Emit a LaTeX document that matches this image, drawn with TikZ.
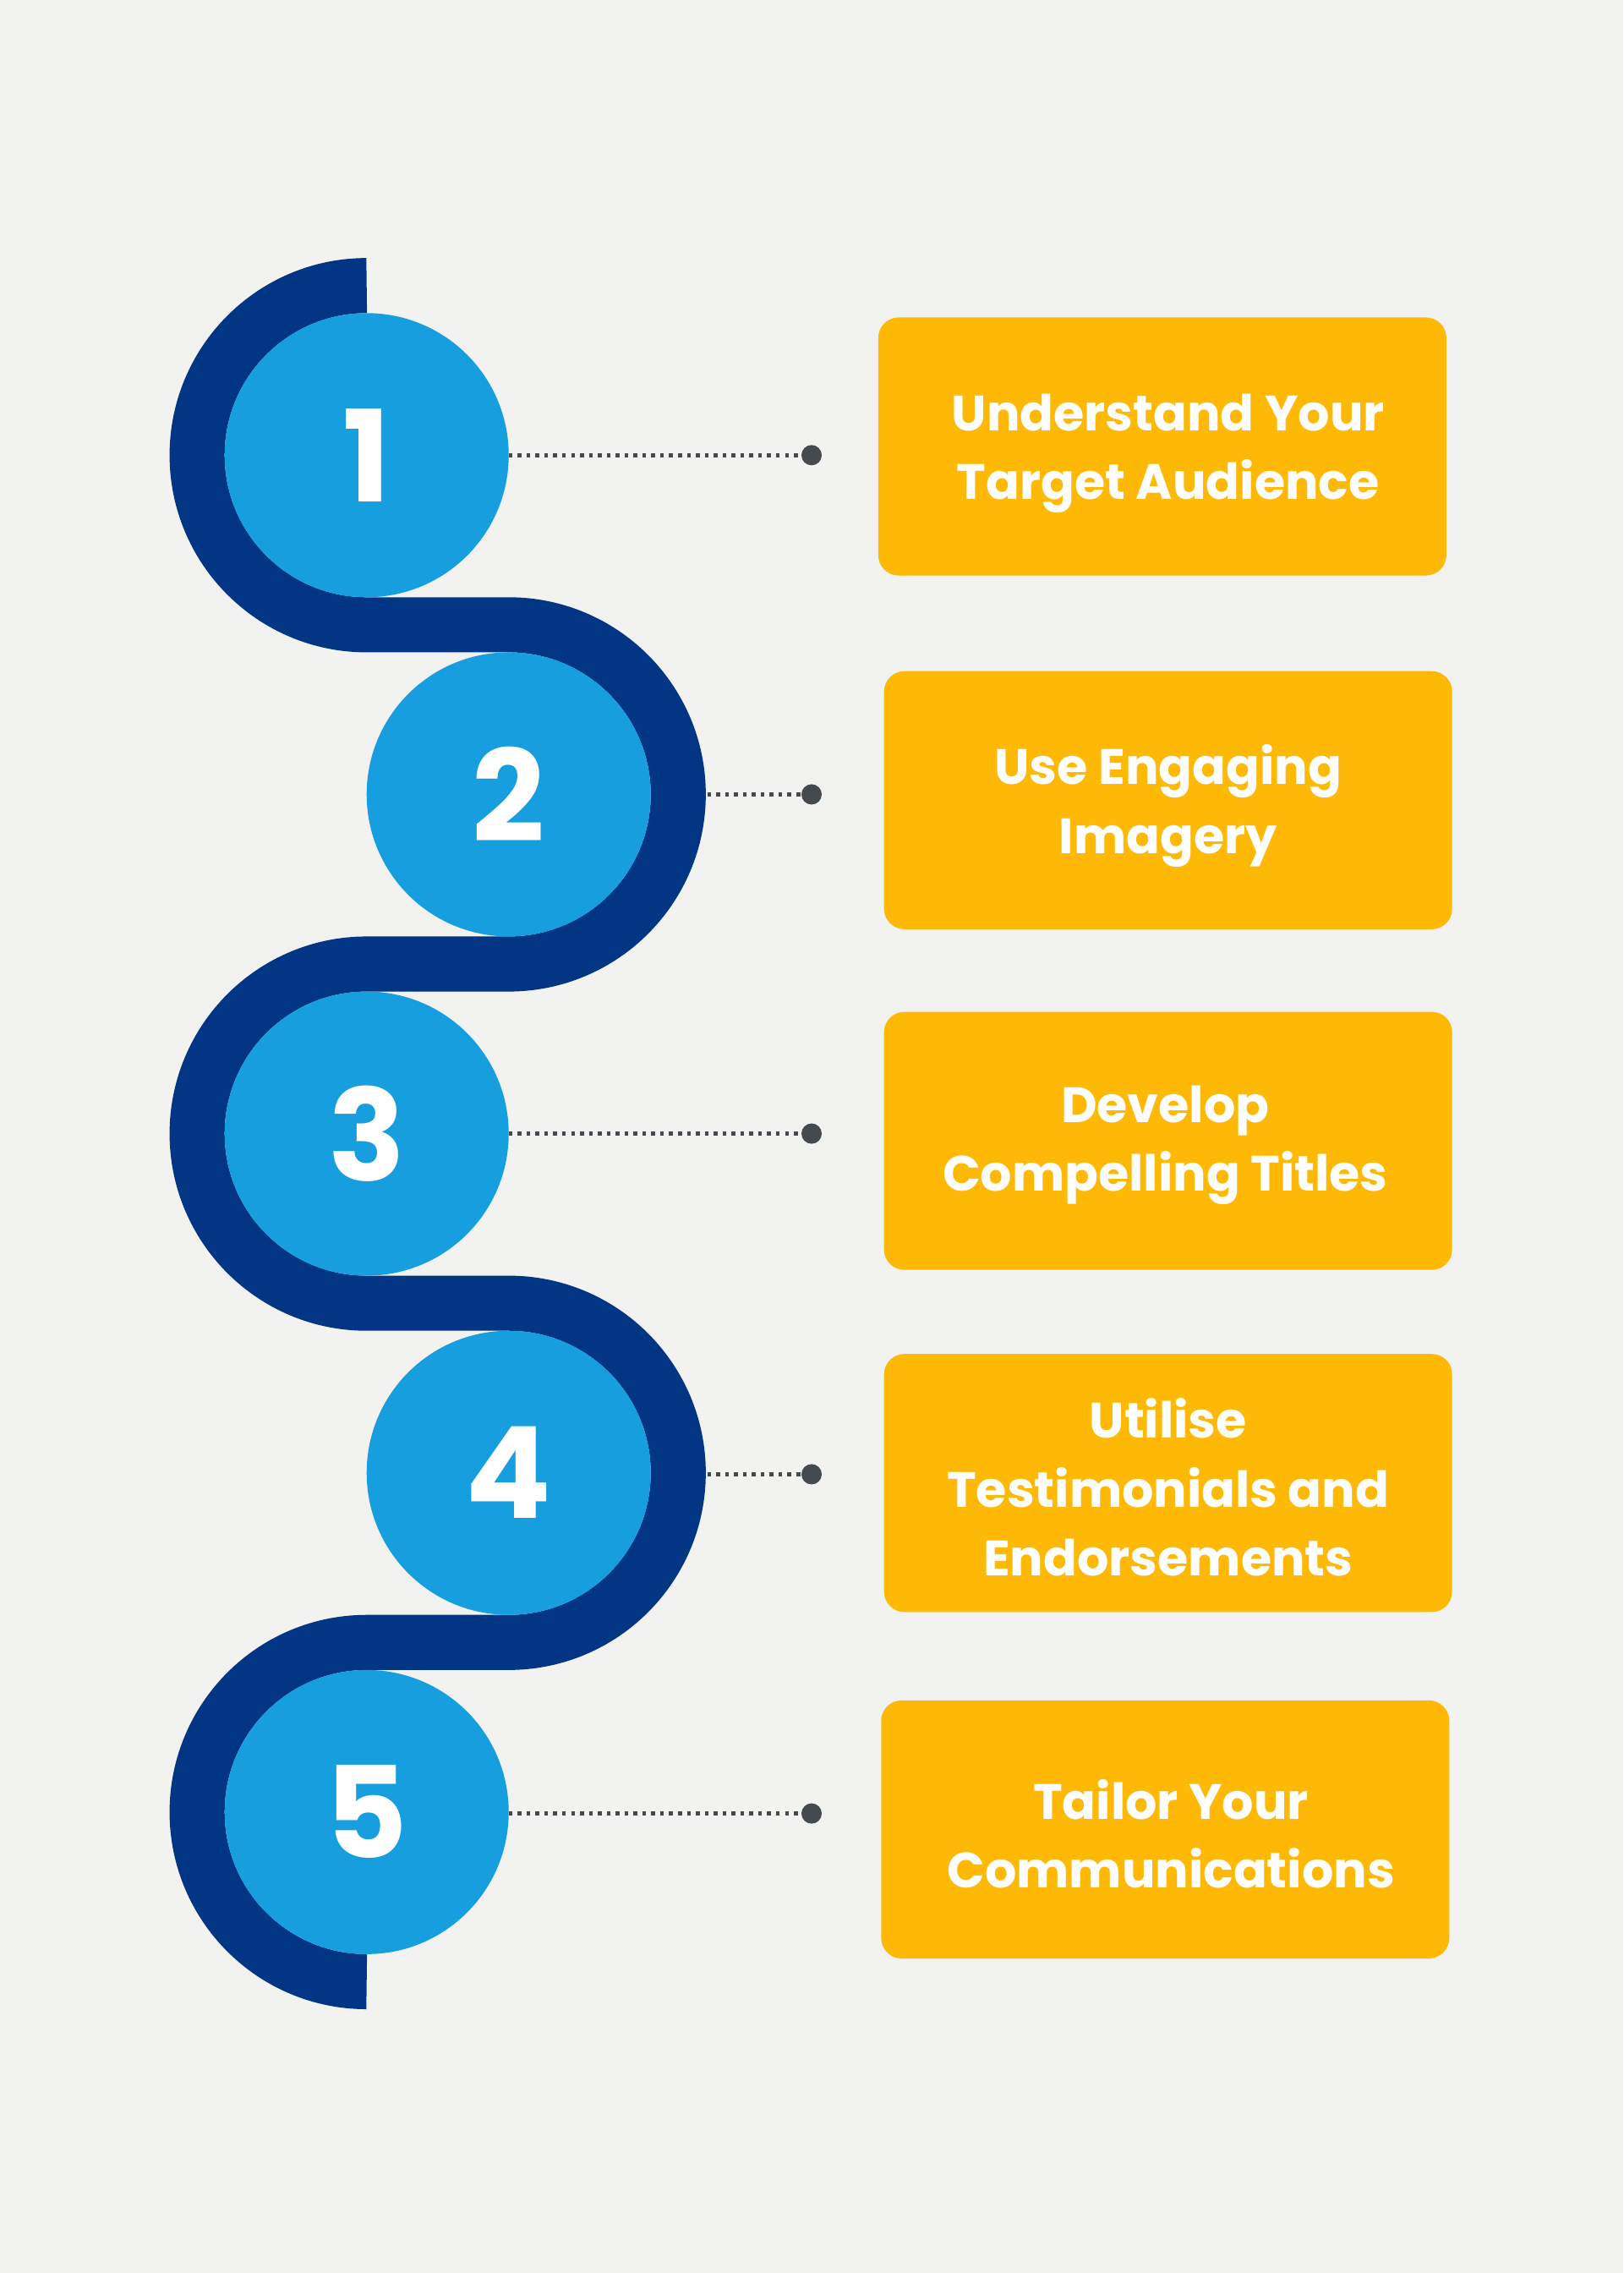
\documentclass[tikz,border=0pt]{standalone}
\usepackage{fontspec}
\setmainfont{Poppins}
\begin{document}
\begin{tikzpicture}[x=0.02cm,y=-0.02cm,
  band/.style={draw=bandblue,line width=38*0.02cm},
  circ/.style={circle,fill=circblue,minimum size=196*0.02cm,inner sep=0pt,text=white,font=\bfseries\fontsize{50}{50}\selectfont},
  card/.style={fill=cardorange,rounded corners=8pt,text=white,align=center,font=\bfseries\fontsize{19.5}{27}\selectfont,minimum width=392*0.02cm,minimum height=178*0.02cm,inner sep=0pt},
  dotl/.style={draw=dotgray,line width=1.5pt,dotted},
  enddot/.style={circle,fill=dotgray,minimum size=14*0.02cm,inner sep=0pt}]
\definecolor{bandblue}{HTML}{023684}
\definecolor{circblue}{HTML}{169EDF}
\definecolor{cardorange}{HTML}{FDB905}
\definecolor{dotgray}{HTML}{454A4E}
\definecolor{bg}{HTML}{F2F2F1}
\fill[bg] (0,0) rectangle (1120,1568);
\useasboundingbox (0,0) rectangle (1120,1568);
\draw[band] (253,197) arc[start angle=270,end angle=90,radius=117]
  -- (351,431) arc[start angle=270,end angle=450,radius=117]
  -- (253,665) arc[start angle=270,end angle=90,radius=117]
  -- (351,899) arc[start angle=270,end angle=450,radius=117]
  -- (253,1133) arc[start angle=270,end angle=90,radius=117];
\node[circ] (c1) at (253,314) {1};
\node[circ] (c2) at (351,548) {2};
\node[circ] (c3) at (253,782) {3};
\node[circ] (c4) at (351,1016) {4};
\node[circ] (c5) at (253,1250) {5};
\node[enddot] (d1) at (560,314) {};
\node[enddot] (d2) at (560,548) {};
\node[enddot] (d3) at (560,782) {};
\node[enddot] (d4) at (560,1017) {};
\node[enddot] (d5) at (560,1251) {};
\draw[dotl] (351,314) -- (d1);
\draw[dotl] (488,548) -- (d2);
\draw[dotl] (351,782) -- (d3);
\draw[dotl] (488,1017) -- (d4);
\draw[dotl] (351,1251) -- (d5);
\node[card] (b1) at (802,308) {};
\node[card] (b2) at (806,552) {};
\node[card] (b3) at (806,787) {};
\node[card] (b4) at (806,1023) {};
\node[card] (b5) at (804,1262) {};
\node[card,fill=none] (t1) at (806,313) {Understand Your\\Target Audience};
\node[card,fill=none] (t2) at (806,556) {Use Engaging\\Imagery};
\node[card,fill=none] (t3) at (804,790) {Develop\\Compelling Titles};
\node[card,fill=none] (t4) at (806,1026) {Utilise\\Testimonials and\\Endorsements};
\node[card,fill=none] (t5) at (808,1265) {Tailor Your\\Communications};
\end{tikzpicture}
\end{document}
